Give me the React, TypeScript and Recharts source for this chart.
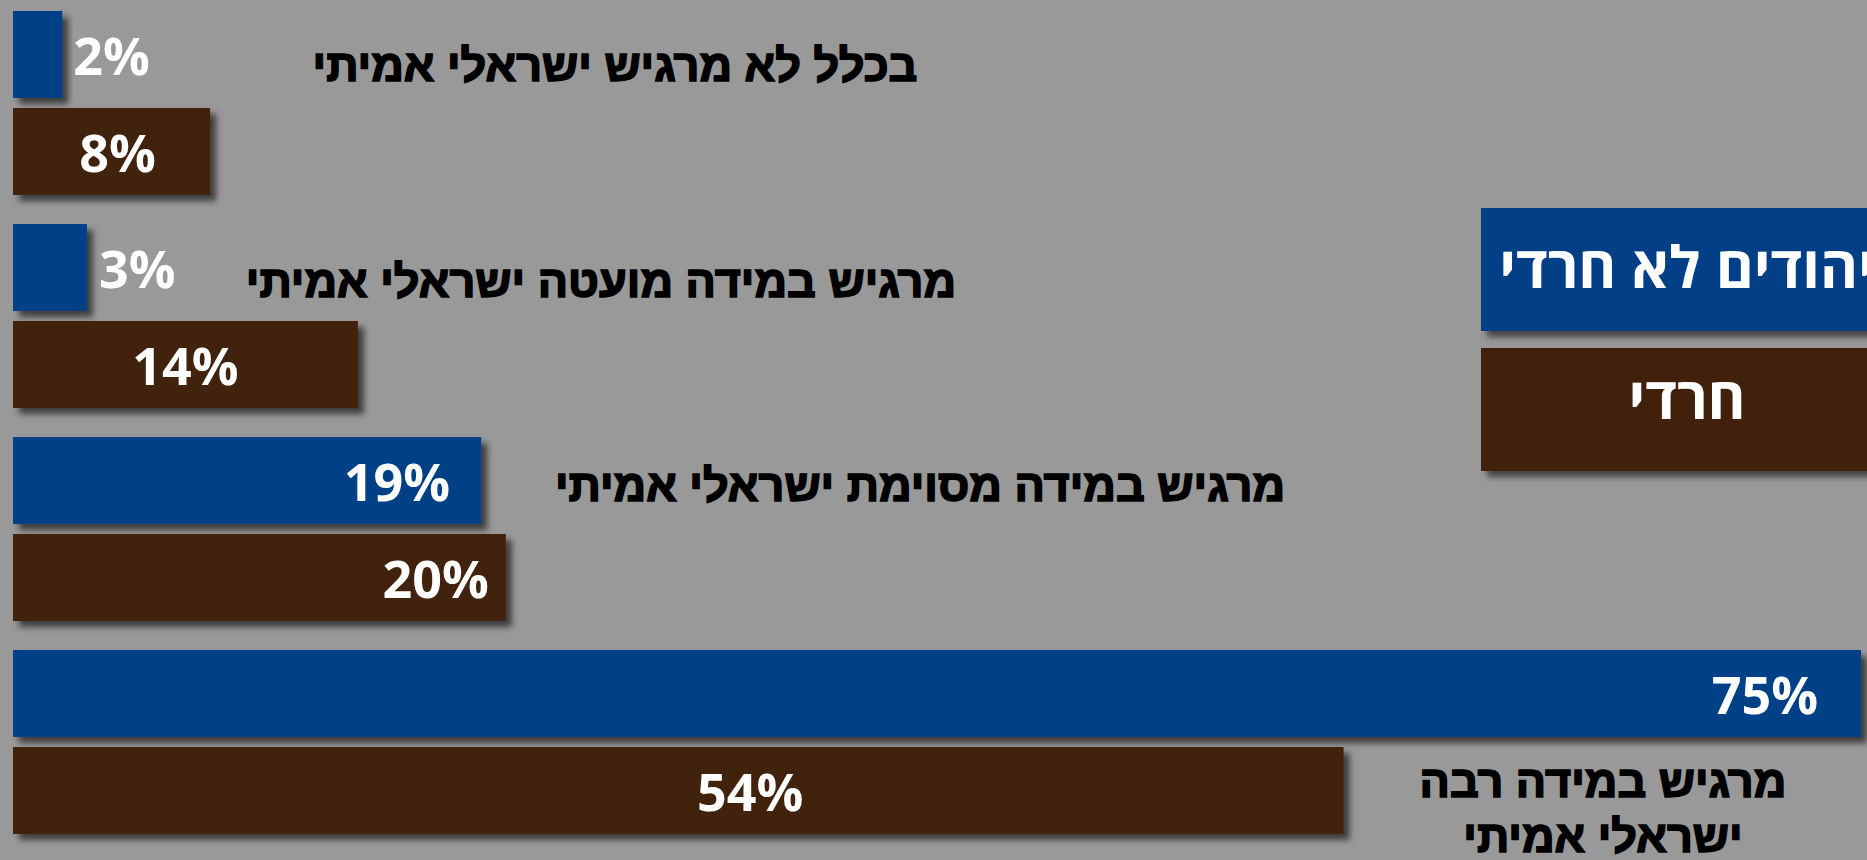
import { BarChart, Bar, XAxis, YAxis, LabelList } from "recharts";

// survey answers, top to bottom
const categories = [
  "בכלל לא מרגיש ישראלי אמיתי",
  "מרגיש במידה מועטה ישראלי אמיתי",
  "מרגיש במידה מסוימת ישראלי אמיתי",
  "מרגיש במידה רבה\nישראלי אמיתי",
];
const seriesNames = ["יהודים לא חרדי", "חרדי"];
const nonHarediValues = [2, 3, 19, 75];
const harediValues = [8, 14, 20, 54];

const BLUE = "#033f87";
const BROWN = "#41210b";
const BG = "#999999";
const seriesColors = [BLUE, BROWN];

const data = categories.map((name, i) => ({
  name,
  nonHaredi: nonHarediValues[i],
  haredi: harediValues[i],
}));

// where each % label sits relative to its bar
const blueLabelPos = [
  { mode: "out", dx: 11 },
  { mode: "out", dx: 12 },
  { mode: "end", dx: -31 },
  { mode: "end", dx: -43 },
];
const brownLabelPos = [
  { mode: "mid", dx: 6 },
  { mode: "mid", dx: 0 },
  { mode: "end", dx: -17 },
  { mode: "mid", dx: 72 },
];

// category text placement (absolute x, offset from top of the blue bar)
const catPos = [
  { x: 615, dy: 54 },
  { x: 601, dy: 57 },
  { x: 920, dy: 48 },
  { x: 1603, dy: 131 },
];

const makeLabel = (pos: { mode: string; dx: number }[]) => (props: any) => {
  const { x, y, width, height, value, index } = props;
  const p = pos[index] || { mode: "mid", dx: 0 };
  let tx = x + width / 2 + p.dx;
  let anchor: "start" | "middle" | "end" = "middle";
  if (p.mode === "out") {
    tx = x + width + p.dx;
    anchor = "start";
  } else if (p.mode === "end") {
    tx = x + width + p.dx;
    anchor = "end";
  }
  return (
    <text
      x={tx}
      y={y + height / 2}
      textAnchor={anchor}
      dominantBaseline="central"
      fill="#ffffff"
      fontFamily="'Open Sans', sans-serif"
      fontWeight={700}
      fontSize={52}
    >
      {value}%
    </text>
  );
};

const CategoryLabel = (props: any) => {
  const { y, value, index } = props;
  const p = catPos[index] || { x: 600, dy: 0 };
  const lines = String(value).split("\n");
  return (
    <text
      x={p.x}
      y={y + p.dy}
      textAnchor="middle"
      dominantBaseline="central"
      fill="#000000"
      stroke="#000000"
      strokeWidth={1.6}
      fontFamily="'Liberation Sans', Arial, sans-serif"
      fontWeight={700}
      fontSize={45}
    >
      {lines.map((l, i) => (
        <tspan key={i} x={p.x} dy={i === 0 ? 0 : 55}>
          {l}
        </tspan>
      ))}
    </text>
  );
};

const ShadowRect = (props: any) => {
  const { x, y, width, height, fill } = props;
  return (
    <rect
      x={x}
      y={y}
      width={width}
      height={height}
      fill={fill}
      filter="url(#barShadow)"
    />
  );
};

export default function App() {
  return (
    <div
      style={{
        position: "absolute",
        left: 0,
        top: 0,
        width: 1867,
        height: 860,
        background: BG,
        overflow: "hidden",
      }}
    >
      <svg width={0} height={0} style={{ position: "absolute" }}>
        <defs>
          <filter id="barShadow" x="-10%" y="-10%" width="130%" height="140%">
            <feDropShadow
              dx={6}
              dy={6}
              stdDeviation={3}
              floodColor="#000000"
              floodOpacity={0.6}
            />
          </filter>
        </defs>
      </svg>
      <BarChart
        width={1867}
        height={860}
        data={data}
        layout="vertical"
        margin={{ top: -4, right: 6, bottom: 12, left: 13 }}
        barCategoryGap={15}
        barGap={10}
      >
        <XAxis type="number" domain={[0, 75]} hide />
        <YAxis type="category" dataKey="name" hide />
        <Bar
          dataKey="nonHaredi"
          name={seriesNames[0]}
          fill={BLUE}
          barSize={87}
          shape={<ShadowRect />}
          isAnimationActive={false}
        >
          <LabelList dataKey="nonHaredi" content={makeLabel(blueLabelPos)} />
          <LabelList dataKey="name" content={<CategoryLabel />} />
        </Bar>
        <Bar
          dataKey="haredi"
          name={seriesNames[1]}
          fill={BROWN}
          barSize={87}
          shape={<ShadowRect />}
          isAnimationActive={false}
        >
          <LabelList dataKey="haredi" content={makeLabel(brownLabelPos)} />
        </Bar>
      </BarChart>
      {/* legend boxes, run off the right edge like the original */}
      <div style={{ position: "absolute", left: 1481, top: 208 }}>
        {seriesNames.map((s, i) => (
          <div
            key={s}
            style={{
              width: 412,
              height: 123,
              marginBottom: 17,
              background: seriesColors[i],
              boxShadow: "6px 6px 6px rgba(0,0,0,0.55)",
              color: "#ffffff",
              fontFamily: "'Open Sans', sans-serif",
              fontWeight: 700,
              fontSize: 58,
              display: "flex",
              alignItems: "center",
              justifyContent: "center",
              direction: "rtl",
              whiteSpace: "nowrap",
              paddingBottom: i === 0 ? 8 : 26,
              boxSizing: "border-box",
            }}
          >
            {s}
          </div>
        ))}
      </div>
    </div>
  );
}
